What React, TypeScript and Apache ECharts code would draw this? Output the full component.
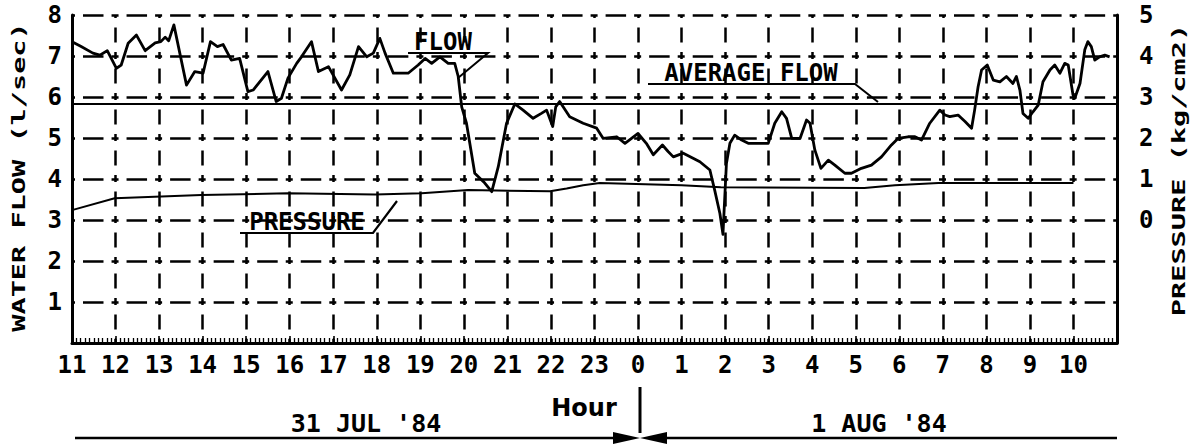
import React, { useEffect, useRef } from "react";
import * as echarts from "echarts";

// hour offsets from 11:00 on 31 Jul '84
const hourTickLabels = ["11","12","13","14","15","16","17","18","19","20","21","22","23","0","1","2","3","4","5","6","7","8","9","10"];
const flowTickLabels = ["", "1", "2", "3", "4", "5", "6", "7", "8"];
const pressureTickLabels = ["0", "1", "2", "3", "4", "5"];

const flowHours = [
  0.00,0.21,0.48,0.64,0.81,1.02,1.13,1.29,1.48,1.68,
  1.91,2.04,2.14,2.22,2.34,2.63,2.82,3.01,3.18,3.34,
  3.47,3.66,3.85,4.04,4.16,4.50,4.69,4.81,4.96,5.16,
  5.27,5.50,5.66,5.89,6.19,6.38,6.58,6.77,6.92,7.07,
  7.19,7.38,7.72,7.95,8.11,8.26,8.45,8.64,8.79,8.87,
  8.95,9.06,9.25,9.48,9.64,9.79,9.98,10.17,10.36,10.59,
  10.78,10.90,11.04,11.11,11.20,11.43,11.74,12.05,12.20,12.51,
  12.70,13.00,13.19,13.35,13.56,13.69,13.81,14.04,14.42,14.65,
  14.76,14.88,14.95,15.03,15.11,15.22,15.38,15.53,15.99,16.14,
  16.30,16.41,16.53,16.72,16.87,16.95,17.06,17.20,17.37,17.52,
  17.75,17.90,18.13,18.36,18.59,18.82,18.97,19.20,19.36,19.51,
  19.70,19.93,20.05,20.16,20.35,20.51,20.66,20.73,20.81,20.89,
  21.02,21.16,21.31,21.46,21.61,21.69,21.77,21.84,21.96,22.07,
  22.19,22.30,22.46,22.57,22.69,22.80,22.88,22.99,23.03,23.15,
  23.26,23.33,23.41,23.49,23.60,23.72,23.83,
];
const flowValues = [
  7.35,7.23,7.07,7.02,7.13,6.70,6.78,7.31,7.51,7.13,
  7.32,7.35,7.46,7.37,7.76,6.29,6.62,6.58,7.35,7.23,
  7.28,6.90,6.94,6.13,6.17,6.62,5.89,5.97,6.46,6.82,
  6.98,7.35,6.62,6.74,6.17,6.54,7.23,6.98,7.07,7.43,
  7.07,6.58,6.58,6.78,6.94,6.82,6.98,6.82,6.82,6.50,
  5.76,5.36,4.14,3.90,3.69,4.30,5.36,5.83,5.68,5.48,
  5.60,5.68,5.28,5.76,5.89,5.52,5.36,5.24,4.99,5.03,
  4.87,5.11,4.87,4.59,4.83,4.67,4.54,4.63,4.42,4.22,
  3.73,3.16,2.65,4.38,4.87,5.07,4.95,4.87,4.87,5.36,
  5.64,5.48,4.99,4.99,5.44,5.36,4.71,4.26,4.46,4.34,
  4.14,4.14,4.26,4.34,4.54,4.83,4.99,5.03,5.03,4.95,
  5.36,5.68,5.56,5.52,5.56,5.40,5.24,5.68,6.25,6.66,
  6.78,6.41,6.37,6.50,6.33,6.50,6.17,5.60,5.48,5.64,
  5.80,6.37,6.66,6.78,6.58,6.82,6.78,6.05,5.97,6.33,
  7.15,7.35,7.23,6.90,6.98,7.02,6.98,
];

const pressureHours = [0, 0.98, 2.97, 4.96, 6.96, 8.03, 9.10, 10.98, 11.36, 11.74, 12.12, 14.0, 14.9, 18.2, 18.9, 19.9, 23.0];
const pressureValues = [0.24, 0.53, 0.61, 0.65, 0.62, 0.65, 0.73, 0.70, 0.77, 0.85, 0.90, 0.85, 0.80, 0.78, 0.85, 0.90, 0.90];

const averageFlow = 5.83;

const MONO = '"DejaVu Sans Mono", monospace';

export default function App() {
  const ref = useRef<HTMLDivElement>(null);
  useEffect(() => {
    if (!ref.current) return;
    const chart = echarts.init(ref.current, undefined, { renderer: "svg" });
    const flowData = flowHours.map((h, i) => [h, flowValues[i]]);
    const pressureData = pressureHours.map((h, i) => [h, pressureValues[i]]);
    const black = "#000";
    const labelFont = { color: black, fontFamily: MONO, fontSize: 24, fontWeight: "bold" as const };
    const txt = (text: string, x: number, y: number, size: number, extra: any = {}) => ({
      type: "text", x, y, silent: true, ...extra,
      style: { text, fill: black, fontFamily: MONO, fontSize: size, fontWeight: "bold", align: "center", verticalAlign: "middle", ...(extra.style || {}) },
    });
    const pl = (points: number[][], w = 2) => ({
      type: "polyline", silent: true, shape: { points }, style: { stroke: black, lineWidth: w, fill: "none" },
    });
    chart.setOption({
      animation: false,
      backgroundColor: "#fff",
      grid: { left: 72, right: 80, top: 15, bottom: 102, containLabel: false },
      xAxis: [
        {
          type: "value", min: 0, max: 24, interval: 1,
          axisLine: { show: true, onZero: false, lineStyle: { color: black, width: 3 } },
          axisTick: { show: true, inside: true, length: 7, lineStyle: { color: black, width: 1.6 } },
          axisLabel: { ...labelFont, margin: 10, formatter: (v: number) => hourTickLabels[Math.round(v)] ?? "" },
          splitLine: { show: true, lineStyle: { color: black, width: 2.5, type: [7, 9.5, 15, 9.5], dashOffset: 3.5 } },
        },
        {
          // fine tick scale along the time axis (every 6 minutes)
          type: "value", min: 0, max: 24, interval: 0.1, position: "bottom",
          axisLine: { show: false, onZero: false },
          axisTick: { show: true, inside: true, length: 5, lineStyle: { color: black, width: 1.3 } },
          axisLabel: { show: false },
          splitLine: { show: false },
        },
      ],
      yAxis: [
        {
          type: "value", min: 0, max: 8, interval: 1, position: "left",
          axisLine: { show: true, onZero: false, lineStyle: { color: black, width: 3 } },
          axisTick: { show: false },
          axisLabel: { ...labelFont, margin: 10, formatter: (v: number) => flowTickLabels[Math.round(v)] ?? "" },
          splitLine: { show: true, lineStyle: { color: black, width: 2.5, type: [7, 8, 20.5, 8.05], dashOffset: 3.5 } },
        },
        {
          type: "value", min: -3, max: 5, interval: 1, position: "right",
          axisLine: { show: true, onZero: false, lineStyle: { color: black, width: 3 } },
          axisTick: { show: false },
          axisLabel: { ...labelFont, margin: 22, formatter: (v: number) => (v >= 0 ? pressureTickLabels[Math.round(v)] ?? "" : "") },
          splitLine: { show: false },
        },
      ],
      series: [
        {
          name: "FLOW", type: "line", data: flowData, showSymbol: false, symbol: "none",
          lineStyle: { color: black, width: 2.8, join: "round" },
          markLine: {
            silent: true, symbol: "none", label: { show: false },
            lineStyle: { color: black, width: 2, type: "solid" },
            data: [{ yAxis: averageFlow }],
          },
          z: 5,
        },
        {
          name: "PRESSURE", type: "line", yAxisIndex: 1, data: pressureData, showSymbol: false, symbol: "none",
          lineStyle: { color: black, width: 2 },
          z: 4,
        },
      ],
      graphic: [
        txt("WATER FLOW (l/sec)", 19, 177, 17, { rotation: Math.PI / 2, scaleX: 1.68 }),
        txt("PRESSURE (kg/cm2)", 1179, 170, 17, { rotation: Math.PI / 2, scaleX: 1.68 }),
        txt("FLOW", 443, 42, 24),
        pl([[408, 53], [488, 53], [458, 78]]),
        txt("AVERAGE FLOW", 751, 73, 24),
        pl([[648, 84], [855, 84], [878, 102]]),
        txt("PRESSURE", 307, 222, 24),
        pl([[240, 233], [373, 233], [397, 201]], 2.2),
        txt("31 JUL '84", 366, 423, 25),
        txt("Hour", 584, 408, 24, { style: { fontFamily: '"DejaVu Sans", sans-serif', fontWeight: "bold" } }),
        txt("1 AUG '84", 879, 423, 25),
        pl([[640, 387], [640, 433]], 3),
        pl([[75, 438], [616, 438]], 2.5),
        pl([[664, 438], [1117, 438]], 2.5),
        { type: "polygon", silent: true, shape: { points: [[613, 432], [640, 438], [613, 444]] }, style: { fill: black } },
        { type: "polygon", silent: true, shape: { points: [[667, 432], [640, 438], [667, 444]] }, style: { fill: black } },
      ],
    });
    return () => chart.dispose();
  }, []);
  return <div ref={ref} style={{ position: "fixed", left: 0, top: 0, width: 1197, height: 445, background: "#fff" }} />;
}
